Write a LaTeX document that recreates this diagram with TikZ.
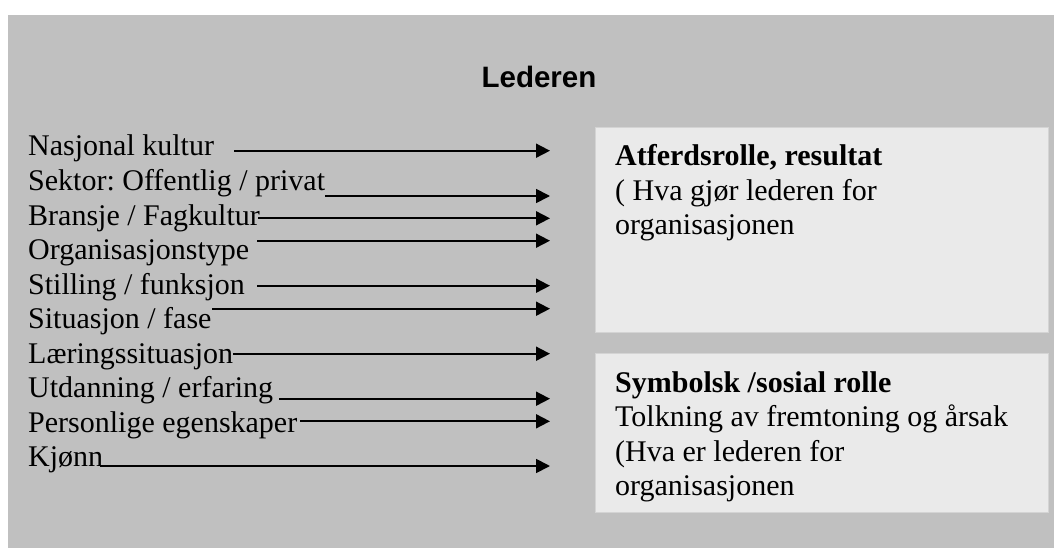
\documentclass[tikz,border=0pt]{standalone}
\usepackage{fontspec}
\setmainfont{Liberation Serif}
\newfontfamily\arialfont{Liberation Sans}
\usetikzlibrary{arrows.meta}
\definecolor{outergray}{HTML}{C0C0C0}
\definecolor{boxgray}{HTML}{EAEAEA}
\definecolor{boxedge}{HTML}{D4D4D4}
\frenchspacing
\begin{document}
\frenchspacing
\begin{tikzpicture}[x=1pt,y=-1pt,
  lbl/.style={anchor=base west,inner sep=0pt,font=\fontsize{30}{34.5}\selectfont},
  boldlbl/.style={lbl,font=\fontsize{30}{34.5}\selectfont\bfseries},
  arr/.style={line width=1.8pt,-{Triangle[length=14pt,width=14pt]}},
  rolebox/.style={fill=boxgray,draw=boxedge,line width=0.8pt,anchor=north west,inner sep=0pt}]
\useasboundingbox (0,0) rectangle (1054,548);
\fill[outergray] (8,15) rectangle (1054,548);
\node[font=\arialfont\bfseries\fontsize{29.5}{30}\selectfont,anchor=base,inner sep=0pt] (title) at (539,87.3) {Lederen};
\node[rolebox,minimum width=453pt,minimum height=205pt] (atferd) at (595,127) {};
\node[rolebox,minimum width=453pt,minimum height=159pt] (symbolsk) at (595,353) {};
\node[boldlbl] (a1) at (615,165.7) {Atferdsrolle, resultat};
\node[lbl] (a2) at (615,200.2) {( Hva gjør lederen for};
\node[lbl] (a3) at (615,234.7) {organisasjonen};
\node[boldlbl] (b1) at (615,392) {Symbolsk /sosial rolle};
\node[lbl] (b2) at (615,426.5) {Tolkning av fremtoning og årsak};
\node[lbl] (b3) at (615,461) {(Hva er lederen for};
\node[lbl] (b4) at (615,495.5) {organisasjonen};
\foreach \i/\txt/\bl/\sx/\ly in {
  1/{Nasjonal kultur}/156/234/150.7,
  2/{Sektor: Offentlig / privat}/190.5/325/196,
  3/{Bransje / Fagkultur}/225/258/218.3,
  4/{Organisasjonstype}/259.5/257/240.7,
  5/{Stilling / funksjon}/294/257/285.7,
  6/{Situasjon / fase}/328.5/212/308.7,
  7/{Læringssituasjon}/363/233/353.7,
  8/{Utdanning / erfaring}/397.5/279/398.7,
  9/{Personlige egenskaper}/432/300/421.3,
  10/{Kjønn}/466.5/100/466}{
  \node[lbl] (f\i) at (28,\bl) {\txt};
  \coordinate (s\i) at (\sx,\ly);
  \coordinate (e\i) at (550,\ly);
  \draw[arr] (s\i) -- (e\i);
}
\end{tikzpicture}
\end{document}
